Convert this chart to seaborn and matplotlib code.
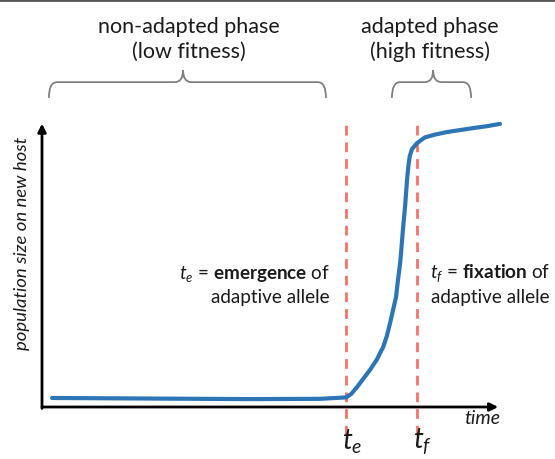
import numpy as np
import matplotlib.pyplot as plt
import seaborn as sns
from matplotlib.path import Path
from matplotlib.patches import PathPatch
from matplotlib.lines import Line2D

# schematic population curve (time / population in arbitrary units 0-100)
time = [2.2, 23.6, 45.4, 60.7, 66.4, 67.5, 68.8, 70.1, 71.6, 73.1, 74.5, 75.3,
        76.0, 76.6, 77.3, 77.7, 78.2, 78.5, 78.8, 79.3, 79.7, 80.0, 80.3, 80.8,
        81.9, 83.6, 85.8, 88.4, 91.3, 94.1, 97.2, 100.0]
population = [3.2, 3.0, 2.8, 2.9, 3.4, 4.6, 7.1, 9.9, 13.1, 16.8, 21.3, 25.2,
              29.8, 34.0, 39.0, 44.7, 51.1, 56.7, 62.8, 71.6, 80.5, 85.5, 89.0, 91.5,
              93.6, 95.6, 96.6, 97.5, 98.2, 98.9, 99.6, 100.4]
t_emergence = 66.3
t_fixation = 81.9

sns.set_style("white")
plt.rcParams['font.family'] = ['Lato', 'DejaVu Sans']
plt.rcParams['mathtext.fontset'] = 'custom'
plt.rcParams['mathtext.rm'] = 'Lato'
plt.rcParams['mathtext.it'] = 'Lato:italic'
plt.rcParams['mathtext.bf'] = 'Lato:bold'

W, H = 555, 459
fig = plt.figure(figsize=(W / 100, H / 100), dpi=100)
ax = fig.add_axes([42 / W, (H - 407) / H, 458 / W, 282 / H])
ax.set_xlim(0, 100)
ax.set_ylim(0, 100)
ax.axis("off")

def px(x, y):
    return x / W, 1 - y / H

# axes arrows
ax.annotate("", xy=(99.6, 0), xytext=(0, 0), annotation_clip=False,
            arrowprops=dict(arrowstyle="-|>", lw=2, color="black", mutation_scale=12,
                            shrinkA=0, shrinkB=0))
ax.annotate("", xy=(0, 100.5), xytext=(0, -0.5), annotation_clip=False,
            arrowprops=dict(arrowstyle="-|>", lw=2, color="black", mutation_scale=12,
                            shrinkA=0, shrinkB=0))

# dashed markers
for t in [t_emergence, t_fixation]:
    ax.plot([t, t], [-10, 100.7], color="#f4736a", lw=2, dashes=(3.5, 2.5), clip_on=False)

sns.lineplot(x=time, y=population, ax=ax, color="#2e75b6", lw=3, clip_on=False)

def brace(x0, x1, xm, ybot=109.6, ytop=115.2, ytip=119.5, rx=1.8):
    verts = [(x0, ybot), (x0, ytop), (x0 + rx, ytop),
             (xm - rx, ytop), (xm, ytop), (xm, ytip),
             (xm, ytop), (xm + rx, ytop),
             (x1 - rx, ytop), (x1, ytop), (x1, ybot)]
    codes = [Path.MOVETO, Path.CURVE3, Path.CURVE3,
             Path.LINETO, Path.CURVE3, Path.CURVE3,
             Path.CURVE3, Path.CURVE3,
             Path.LINETO, Path.CURVE3, Path.CURVE3]
    ax.add_patch(PathPatch(Path(verts, codes), fc="none", ec="#808080", lw=1.3, clip_on=False))

brace(1.5, 62.0, 30.8)
brace(76.4, 93.7, 85.4)

fs = 15.5
col = "#1a1a1a"
fig.text(*px(189, 27), "non-adapted phase", ha="center", va="center", fontsize=fs, color=col)
fig.text(*px(189, 52), "(low fitness)", ha="center", va="center", fontsize=fs, color=col)
fig.text(*px(430, 27), "adapted phase", ha="center", va="center", fontsize=fs, color=col)
fig.text(*px(430, 52), "(high fitness)", ha="center", va="center", fontsize=fs, color=col)

fs2 = 13.6
fig.text(*px(330, 273), r"$t_e$ = $\mathbf{emergence}$ of", ha="right", va="center", fontsize=fs2, color=col)
fig.text(*px(330, 298), "adaptive allele", ha="right", va="center", fontsize=fs2, color=col)
fig.text(*px(430, 273), r"$t_f$ = $\mathbf{fixation}$ of", ha="left", va="center", fontsize=fs2, color=col)
fig.text(*px(431, 298), "adaptive allele", ha="left", va="center", fontsize=fs2, color=col)

fig.text(*px(500, 419), "time", ha="right", va="center", fontsize=14, style="italic", color=col)
fig.text(*px(22, 243), "population size on new host", ha="center", va="center", rotation=90,
         fontsize=13.3, style="italic", color=col)
fig.text(*px(352, 442), r"$t_e$", ha="center", va="center", fontsize=20, color=col)
fig.text(*px(423, 442), r"$t_f$", ha="center", va="center", fontsize=20, color=col)

fig.add_artist(Line2D([0, 1], [1, 1], transform=fig.transFigure, color="#555555", lw=2))

fig.savefig("out.png", dpi=100)
